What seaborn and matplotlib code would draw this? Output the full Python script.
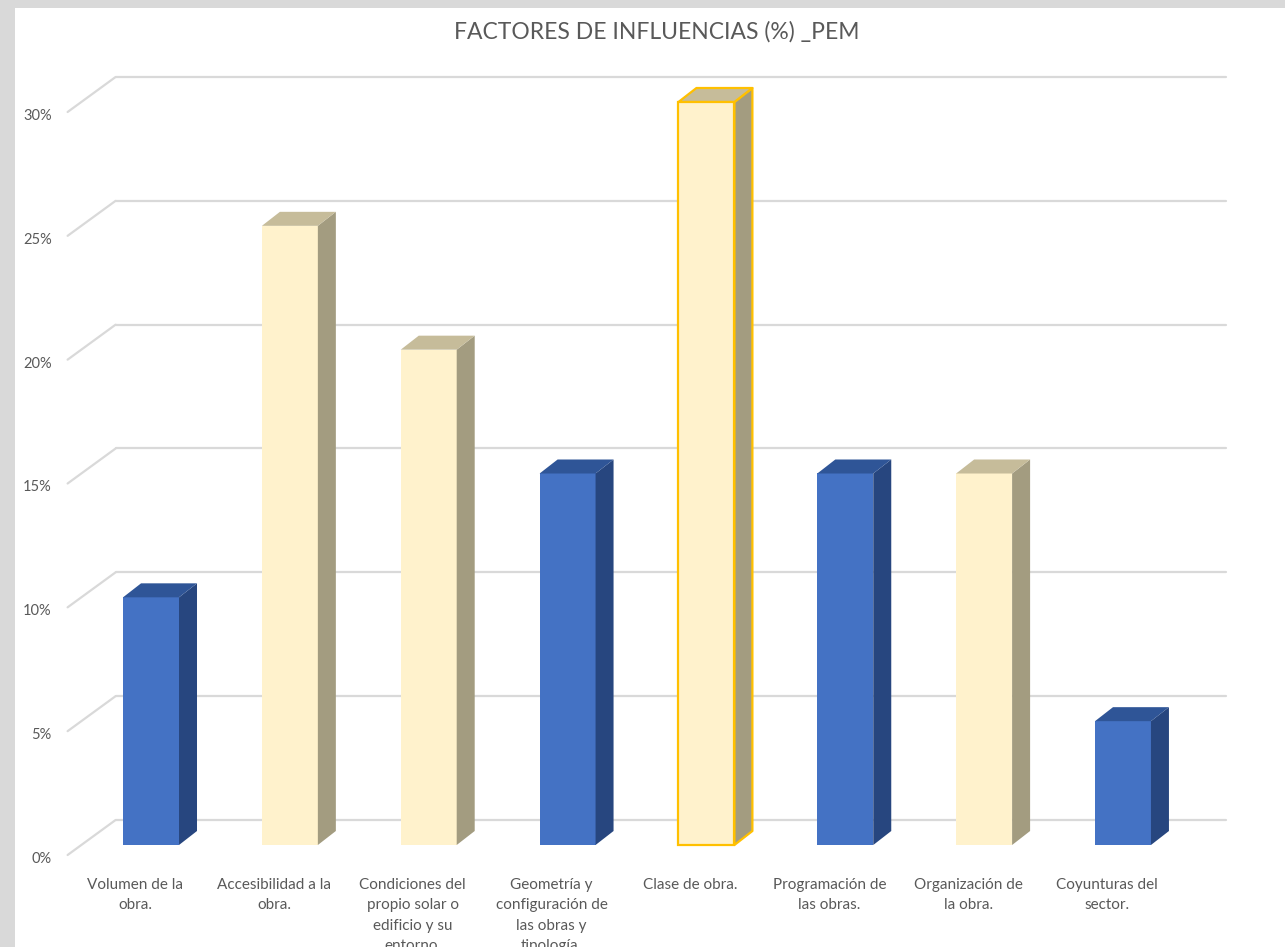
import matplotlib
matplotlib.use("Agg")
import matplotlib.pyplot as plt
from matplotlib.patches import Polygon, Rectangle
from matplotlib.lines import Line2D
import matplotlib.transforms as mtransforms
import seaborn as sns
import pandas as pd

# ---- data ----
categories = [
    "Volumen de la\nobra.",
    "Accesibilidad a la\nobra.",
    "Condiciones del\npropio solar o\nedificio y su\nentorno.",
    "Geometría y\nconfiguración de\nlas obras y\ntipología.",
    "Clase de obra.",
    "Programación de\nlas obras.",
    "Organización de\nla obra.",
    "Coyunturas del\nsector.",
]
values = [10, 25, 20, 15, 30, 15, 15, 5]
tick_values = [0, 5, 10, 15, 20, 25, 30]
tick_labels = ["0%", "5%", "10%", "15%", "20%", "25%", "30%"]
title = "FACTORES DE INFLUENCIAS (%) _PEM"

# ---- style ----
BLUE = ("#4472C4", "#2F5597", "#27467F")     # front, top, side
CREAM = ("#FFF2CC", "#C6BC9A", "#A39C80")
bar_styles = [BLUE, CREAM, CREAM, BLUE, CREAM, BLUE, CREAM, BLUE]
highlight = 4          # outlined column
GRID = "#D9D9D9"
TEXT = "#595959"

sns.set_theme(style="white")
plt.rcParams["font.family"] = ["Lato", "DejaVu Sans"]

W, H, DPI = 1285, 947, 100
fig = plt.figure(figsize=(W / DPI, H / DPI), dpi=DPI)
fig.patch.set_facecolor("#D9D9D9")
fig.add_artist(Rectangle((15 / W, 0), 1 - 15 / W, 1 - 8 / H,
                         transform=fig.transFigure, facecolor="white",
                         edgecolor="none", zorder=-10))

# axes placed so the front faces of the columns sit on the value scale
x0_px, x1_px = 81.6, 1192.4
y0_px, y1_px = 845, 102
ax = fig.add_axes([x0_px / W, 1 - y0_px / H, (x1_px - x0_px) / W, (y0_px - y1_px) / H])
ax.set_facecolor("none")

df = pd.DataFrame({"cat": categories, "val": values})
front_palette = {c: s[0] for c, s in zip(categories, bar_styles)}
sns.barplot(data=df, x="cat", y="val", hue="cat", palette=front_palette,
            width=0.403, saturation=1, legend=False, linewidth=0, ax=ax, zorder=3)

ax.set_xlim(-0.5, len(categories) - 0.5)
ax.set_ylim(0, 30)
for s in ax.spines.values():
    s.set_visible(False)
ax.set_xticks([])
ax.set_yticks([])
ax.set_xlabel("")
ax.set_ylabel("")

# pixel -> data unit conversion
ux = ax.bbox.width / (ax.get_xlim()[1] - ax.get_xlim()[0])
uy = ax.bbox.height / (ax.get_ylim()[1] - ax.get_ylim()[0])

def px(dx, dy):
    return dx / ux, dy / uy

# wall / floor geometry (pixel offsets from the column front plane)
front_off = px(-14, -10)
back_off = px(34, 25)
depth = px(18, 14)
xl, xr = ax.get_xlim()

for v in tick_values:
    # back wall gridline
    ax.add_line(Line2D([xl + back_off[0], xr + back_off[0]],
                       [v + back_off[1], v + back_off[1]],
                       color=GRID, lw=1.6, zorder=1, clip_on=False))
    # left side-wall line
    ax.add_line(Line2D([xl + front_off[0], xl + back_off[0]],
                       [v + front_off[1], v + back_off[1]],
                       color=GRID, lw=1.6, zorder=1, clip_on=False))

# 3D faces of the columns
for i, (patch, st) in enumerate(zip(ax.patches, bar_styles)):
    x = patch.get_x()
    w = patch.get_width()
    h = patch.get_height()
    dx, dy = depth
    ec = "#FFC000" if i == highlight else "none"
    lw = 1.6 if i == highlight else 0
    side = Polygon([(x + w, 0), (x + w, h), (x + w + dx, h + dy), (x + w + dx, dy)],
                   closed=True, facecolor=st[2], edgecolor=ec, lw=lw,
                   zorder=3, clip_on=False, joinstyle="round")
    top = Polygon([(x, h), (x + w, h), (x + w + dx, h + dy), (x + dx, h + dy)],
                  closed=True, facecolor=st[1], edgecolor=ec, lw=lw,
                  zorder=3, clip_on=False, joinstyle="round")
    ax.add_patch(side)
    ax.add_patch(top)
    if i == highlight:
        patch.set_edgecolor(ec)
        patch.set_linewidth(lw)
        patch.set_zorder(4)
    patch.set_clip_on(False)

# value axis labels
ytr = mtransforms.offset_copy(ax.transData, fig, x=-30, y=-14, units="dots")
for v, lab in zip(tick_values, tick_labels):
    ax.text(xl, v, lab, transform=ytr, ha="right", va="center",
            fontsize=10.5, color=TEXT)

# category labels
xtr = mtransforms.offset_copy(ax.transData, fig, x=-16, y=-33, units="dots")
for i, c in enumerate(categories):
    ax.text(i, 0, c, transform=xtr, ha="center", va="top", fontsize=11,
            color=TEXT, linespacing=1.58, clip_on=False)

fig.text(657 / W, 1 - 32 / H, title, ha="center", va="center",
         fontsize=16.5, color=TEXT)

fig.savefig("out.png", dpi=DPI, facecolor=fig.get_facecolor())
